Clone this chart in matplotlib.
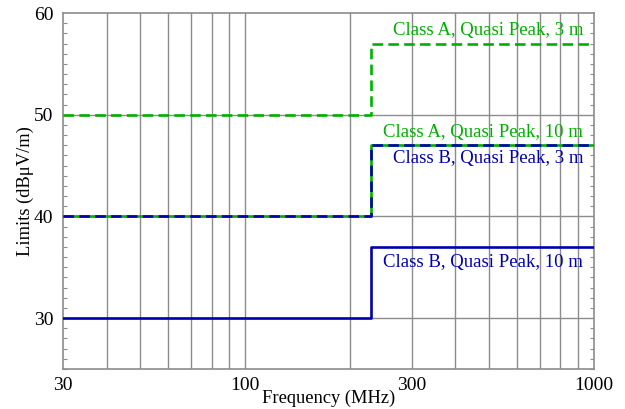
import matplotlib.pyplot as plt
from matplotlib.ticker import FixedLocator, MultipleLocator, NullFormatter

# Radiated emission limits, step at 230 MHz
freq = [30, 230, 230, 1000]
class_a_3m = [50, 50, 57, 57]
class_a_10m = [40, 40, 47, 47]
class_b_3m = [40, 40, 47, 47]
class_b_10m = [30, 30, 37, 37]

x_ticks = [30, 100, 300, 1000]
x_tick_labels = ["30", "100", "300", "1000"]
x_grid = [40, 50, 60, 70, 80, 90, 100, 200, 300, 400, 500, 600, 700, 800, 900]

green = "#00b000"
blue = "#0000b0"
grid_grey = "#8c8c8c"

plt.rcParams["font.family"] = ["Liberation Serif", "DejaVu Serif"]

fig = plt.figure(figsize=(6.25, 4.09), dpi=100)
ax = fig.add_axes([0.1008, 0.0978, 0.8496, 0.8704])

ax.set_xscale("log")
ax.set_xlim(30, 1000)
ax.set_ylim(25, 60)

# grid lines
for xg in x_grid:
    ax.axvline(xg, color=grid_grey, lw=1.0, zorder=1)
for yg in [30, 40, 50]:
    ax.axhline(yg, color=grid_grey, lw=1.0, zorder=1)

lw = 1.9
ax.plot(freq, class_a_3m, color=green, lw=lw, ls=(0, (4, 2)), zorder=3)
ax.plot(freq, class_a_10m, color=green, lw=lw, zorder=3)
ax.plot(freq, class_b_3m, color=blue, lw=lw, ls=(0, (4, 2)), zorder=4)
ax.plot(freq, class_b_10m, color=blue, lw=lw, zorder=3)

fs = 13.5
x_lab = 930
ax.text(x_lab, 58.3, "Class A, Quasi Peak, 3 m", color=green, fontsize=fs,
        ha="right", va="center")
ax.text(x_lab, 48.3, "Class A, Quasi Peak, 10 m", color=green, fontsize=fs,
        ha="right", va="center")
ax.text(x_lab, 45.7, "Class B, Quasi Peak, 3 m", color=blue, fontsize=fs,
        ha="right", va="center")
ax.text(x_lab, 35.5, "Class B, Quasi Peak, 10 m", color=blue, fontsize=fs,
        ha="right", va="center")

ax.xaxis.set_major_locator(FixedLocator(x_ticks))
ax.xaxis.set_minor_locator(FixedLocator([]))
ax.xaxis.set_minor_formatter(NullFormatter())
ax.set_xticklabels(x_tick_labels)
ax.tick_params(axis="x", length=0, labelsize=14, pad=6)

ax.yaxis.set_major_locator(MultipleLocator(10))
ax.yaxis.set_minor_locator(MultipleLocator(1))
ax.tick_params(axis="y", which="both", direction="in", left=True, right=True,
               labelsize=14, color=grid_grey)
ax.tick_params(axis="y", which="major", length=0, pad=7)
ax.tick_params(axis="y", which="minor", length=3, width=0.8)

for s in ax.spines.values():
    s.set_color(grid_grey)
    s.set_linewidth(1.2)

ax.set_xlabel("Frequency (MHz)", fontsize=13.3, labelpad=-3)
ax.set_ylabel("Limits (dBμV/m)", fontsize=13.3, labelpad=0)

fig.savefig("out.png", dpi=100)
